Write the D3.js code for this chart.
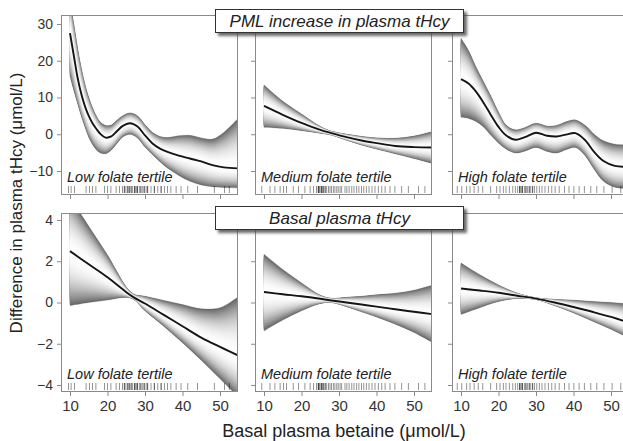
<!DOCTYPE html>
<html><head><meta charset="utf-8">
<script src="https://cdn.jsdelivr.net/npm/d3@7"></script>
<style>body{margin:0;background:#fff;overflow:hidden}</style>
</head><body><svg id="c" width="623" height="441"></svg>
<script>
// ---------- data ----------
const tertiles = ["Low folate tertile", "Medium folate tertile", "High folate tertile"];
const rowTitles = ["PML increase in plasma tHcy", "Basal plasma tHcy"];
const xTicks = [10, 20, 30, 40, 50];
const yTicksPML = [-10, 0, 10, 20, 30];
const yTicksBasal = [-4, -2, 0, 2, 4];
const xTitle = "Basal plasma betaine (\u03bcmol/L)";
const yTitle = "Difference in plasma tHcy (\u03bcmol/L)";

// PML increase, low folate
const pmlLowX   = [10, 11, 12, 13, 14, 15, 16, 17, 18, 19.5, 21, 22.5, 24, 26, 28, 30, 32, 34, 36, 39, 42, 45, 48, 51, 55];
const pmlLowFit = [27.5, 21.5, 15.5, 11.0, 7.6, 5.0, 3.0, 1.5, 0.2, -0.9, -0.6, 0.8, 2.2, 3.0, 2.1, -0.3, -2.5, -3.9, -4.8, -5.8, -6.6, -7.4, -8.4, -9.0, -9.3];
const pmlLowHi  = [36, 30, 23.5, 18, 13.5, 10, 7.2, 5.0, 3.4, 2.4, 2.5, 3.8, 5.0, 5.8, 5.0, 2.6, 0.5, -0.6, -0.9, -0.4, -0.3, -1.0, -1.3, 0.5, 4.5];
const pmlLowLo  = [15.9, 12.0, 8.5, 5.0, 2.0, -0.8, -2.8, -4.2, -5.0, -5.3, -4.3, -2.5, -0.8, 0.0, -1.0, -3.5, -5.5, -7.5, -9.2, -11.2, -12.8, -13.8, -14.3, -14.5, -14.6];
// PML increase, medium folate
const pmlMedX   = [10, 15, 20, 25, 28, 32, 36, 40, 45, 50, 55];
const pmlMedFit = [7.7, 5.3, 3.1, 1.2, 0.3, -0.8, -1.7, -2.4, -3.2, -3.5, -3.6];
const pmlMedHi  = [13.4, 9.0, 5.5, 2.1, 0.8, 0.0, -0.6, -1.0, -1.1, -0.5, 0.8];
const pmlMedLo  = [1.9, 1.6, 1.0, 0.3, -0.2, -1.6, -2.9, -4.0, -5.3, -6.6, -8.0];
// PML increase, high folate
const pmlHighX   = [10, 12, 14, 16, 18, 20, 22, 24.5, 27, 30, 33, 35.5, 38, 40.5, 43, 45.5, 48, 51, 55];
const pmlHighFit = [15.0, 13.8, 11.6, 8.6, 5.2, 2.0, -0.3, -1.5, -0.8, 0.4, -0.4, -0.6, -0.1, 0.3, -1.5, -4.8, -7.3, -8.6, -8.9];
const pmlHighHi  = [26.1, 22.8, 18.3, 14.3, 10.3, 6.0, 2.5, 1.2, 1.8, 3.0, 2.2, 2.4, 3.4, 3.9, 2.5, 0.0, -1.8, -2.7, -2.9];
const pmlHighLo  = [4.6, 4.3, 3.5, 2.0, -0.3, -2.4, -4.0, -5.1, -4.6, -3.6, -4.7, -5.1, -4.2, -3.6, -5.7, -9.5, -12.8, -14.4, -14.8];
// Basal tHcy, low folate
const basLowX   = [10, 15, 20, 25, 27, 30, 35, 40, 45, 50, 55];
const basLowFit = [2.49, 1.85, 1.22, 0.5, 0.25, -0.05, -0.6, -1.15, -1.7, -2.15, -2.58];
const basLowHi  = [5.1, 3.7, 2.3, 0.75, 0.4, 0.3, 0.1, -0.1, -0.3, -0.25, 0.3];
const basLowLo  = [-0.15, 0.0, 0.12, 0.25, 0.15, -0.4, -1.15, -1.95, -2.8, -3.7, -4.6];
// Basal tHcy, medium folate
const basMedX   = [10, 15, 20, 25, 28, 32, 36, 40, 45, 50, 55];
const basMedFit = [0.51, 0.4, 0.3, 0.18, 0.1, 0.0, -0.1, -0.2, -0.33, -0.45, -0.57];
const basMedHi  = [2.34, 1.6, 0.95, 0.35, 0.2, 0.25, 0.3, 0.38, 0.45, 0.6, 0.85];
const basMedLo  = [-1.38, -0.85, -0.4, -0.05, 0.0, -0.2, -0.45, -0.7, -1.05, -1.45, -1.95];
// Basal tHcy, high folate
const basHighX   = [10, 15, 20, 25, 30, 35, 40, 45, 50, 55];
const basHighFit = [0.68, 0.58, 0.47, 0.33, 0.19, 0.0, -0.22, -0.45, -0.7, -1.0];
const basHighHi  = [1.92, 1.35, 0.85, 0.45, 0.22, 0.15, 0.11, 0.05, 0.0, -0.07];
const basHighLo  = [-0.58, -0.25, 0.05, 0.2, 0.15, -0.15, -0.5, -0.9, -1.3, -1.75];

// rug: basal betaine of individual subjects per tertile
const rugLow = [9.6, 10.3, 11.2, 14.3, 15.2, 16.0, 16.9, 19.2, 20.0, 20.9, 22.3, 23.2, 24.0, 24.5, 24.9, 25.4, 25.8, 26.3, 26.7, 27.2, 27.6, 28.0, 28.5, 28.9, 29.4, 29.8, 30.3, 30.7, 31.6, 32.5, 33.4, 34.3, 35.2, 36.0, 36.9, 38.3, 39.6, 41.4, 44.0, 48.5, 51.2, 52.5, 24.5, 25.4, 26.3, 27.2, 28.0, 28.9, 29.8, 30.7, 25.8, 27.6, 32.5, 34.3];
const rugMedium = [9.4, 11.6, 12.9, 14.3, 15.2, 16.0, 17.8, 19.2, 20.9, 22.3, 23.2, 24.0, 24.5, 24.9, 25.4, 25.8, 26.3, 26.7, 27.2, 27.6, 28.0, 28.5, 28.9, 29.4, 29.8, 30.3, 30.7, 31.6, 32.1, 32.7, 33.4, 34.0, 34.7, 35.3, 36.0, 36.6, 37.3, 38.0, 38.8, 39.6, 40.5, 41.4, 42.3, 43.6, 44.9, 46.7, 48.5, 51.2, 52.9, 54.7, 24.5, 24.9, 25.4, 25.8, 26.3, 24.5, 25.4];
const rugHigh = [9.0, 10.2, 11.5, 12.4, 13.5, 14.6, 15.8, 17.9, 19.5, 20.4, 21.3, 22.0, 22.9, 23.8, 24.5, 25.1, 25.6, 26.0, 26.4, 26.9, 27.3, 27.7, 28.2, 28.6, 29.1, 29.6, 30.2, 30.9, 31.6, 32.4, 33.3, 34.2, 35.1, 36.2, 37.6, 38.8, 40.1, 41.5, 42.9, 44.6, 46.2, 48.1, 50.3, 52.6, 54.0, 25.6, 26.4, 27.3, 28.2, 29.1, 26.0];

// ---------- layout ----------
const svg = d3.select("#c");
const colLeft = [61, 255, 452];
const panelW = 177;
const rowTop = [15, 213];
const rowBottom = [195, 392];
const yDomRef = [[-10, 30], [-4, 4]];
const yRangeRef = [[171, 24], [385, 220]];
const yTicksRow = [yTicksPML, yTicksBasal];
const rugs = [rugLow, rugMedium, rugHigh];
const series = [
  [[pmlLowX, pmlLowFit, pmlLowHi, pmlLowLo], [pmlMedX, pmlMedFit, pmlMedHi, pmlMedLo], [pmlHighX, pmlHighFit, pmlHighHi, pmlHighLo]],
  [[basLowX, basLowFit, basLowHi, basLowLo], [basMedX, basMedFit, basMedHi, basMedLo], [basHighX, basHighFit, basHighHi, basHighLo]]
];

const defs = svg.append("defs");
const f = defs.append("filter").attr("id", "shadow").attr("x", "-10%").attr("y", "-30%").attr("width", "130%").attr("height", "190%");
f.append("feDropShadow").attr("dx", 3).attr("dy", 3).attr("stdDeviation", 1.6).attr("flood-color", "#444").attr("flood-opacity", 0.8);

const FONT = "'Liberation Sans', Arial, Helvetica, sans-serif";
const NLEV = 40;

for (let r = 0; r < 2; r++) {
  for (let c = 0; c < 3; c++) {
    const L = colLeft[c], T = rowTop[r], B = rowBottom[r];
    const x = d3.scaleLinear().domain([10, 50]).range([L + 9, L + 159]);
    const y = d3.scaleLinear().domain(yDomRef[r]).range(yRangeRef[r]);
    const [xs, fit, hi, lo] = series[r][c];
    const data = xs.map((v, i) => ({x: v, f: fit[i], hi: hi[i], lo: lo[i]}));
    const cid = `clip${r}${c}`;
    defs.append("clipPath").attr("id", cid).append("rect")
      .attr("x", L).attr("y", T).attr("width", panelW).attr("height", B - T);
    const g = svg.append("g").attr("clip-path", `url(#${cid})`);
    for (let k = NLEV; k >= 1; k--) {
      const t = k / NLEV;
      const gray = Math.round(254 - 150 * Math.pow(t, 2.2));
      const area = d3.area()
        .x(d => x(d.x))
        .y0(d => y(d.f + t * (d.lo - d.f)))
        .y1(d => y(d.f + t * (d.hi - d.f)))
        .curve(d3.curveCatmullRom.alpha(0.5));
      g.append("path").datum(data).attr("d", area)
        .attr("fill", d3.rgb(gray, gray, gray)).attr("stroke", d3.rgb(gray, gray, gray)).attr("stroke-width", 0.3);
    }
    const line = d3.line().x(d => x(d.x)).y(d => y(d.f)).curve(d3.curveCatmullRom.alpha(0.5));
    g.append("path").datum(data).attr("d", line).attr("fill", "none")
      .attr("stroke", "#151515").attr("stroke-width", 1.9);
    // rug
    g.selectAll(".rug").data(rugs[c]).enter().append("line")
      .attr("x1", d => x(d)).attr("x2", d => x(d))
      .attr("y1", B - 9).attr("y2", B - 2)
      .attr("stroke", "#000").attr("stroke-opacity", 0.42).attr("stroke-width", 1);
    // tertile label
    svg.append("text").attr("x", L + 6).attr("y", B - 13)
      .attr("font-family", FONT).attr("font-style", "italic").attr("font-size", 14.5)
      .attr("fill", "#222").text(tertiles[c]);
    // frame
    svg.append("rect").attr("x", L + 0.5).attr("y", T + 0.5).attr("width", panelW - 1).attr("height", B - T - 1)
      .attr("fill", "none").attr("stroke", "#8a8a8a").attr("stroke-width", 1);
    // left axis ticks
    const ya = svg.append("g").attr("transform", `translate(${L},0)`)
      .call(d3.axisLeft(y).tickValues(yTicksRow[r]).tickSize(4).tickPadding(4).tickFormat(c === 0 ? d3.format("d") : ""));
    ya.select(".domain").remove();
    ya.selectAll(".tick line").attr("stroke", "#8a8a8a");
    ya.selectAll(".tick text").attr("font-family", FONT).attr("font-size", 14).attr("fill", "#333");
    // bottom axis ticks
    const xa = svg.append("g").attr("transform", `translate(0,${B})`)
      .call(d3.axisBottom(x).tickValues(xTicks).tickSize(4).tickPadding(4).tickFormat(r === 1 ? d3.format("d") : ""));
    xa.select(".domain").remove();
    xa.selectAll(".tick line").attr("stroke", "#8a8a8a");
    xa.selectAll(".tick text").attr("font-family", FONT).attr("font-size", 15).attr("fill", "#333");
  }
}

// strip boxes
const boxY = [9, 206];
for (let r = 0; r < 2; r++) {
  const gb = svg.append("g");
  gb.append("rect").attr("x", 215.5).attr("y", boxY[r] + 0.5).attr("width", 248).attr("height", 23)
    .attr("fill", "#fff").attr("stroke", "#333").attr("stroke-width", 1).attr("filter", "url(#shadow)");
  gb.append("text").attr("x", 339.5).attr("y", boxY[r] + 18).attr("text-anchor", "middle")
    .attr("font-family", FONT).attr("font-style", "italic").attr("font-size", 17).attr("fill", "#222")
    .text(rowTitles[r]);
}

// axis titles
svg.append("text").attr("x", 344).attr("y", 437).attr("text-anchor", "middle")
  .attr("font-family", FONT).attr("font-size", 18).attr("fill", "#222").text(xTitle);
svg.append("text").attr("transform", "translate(22,203) rotate(-90)").attr("text-anchor", "middle")
  .attr("font-family", FONT).attr("font-size", 17).attr("fill", "#222").text(yTitle);
</script>
</body></html>
